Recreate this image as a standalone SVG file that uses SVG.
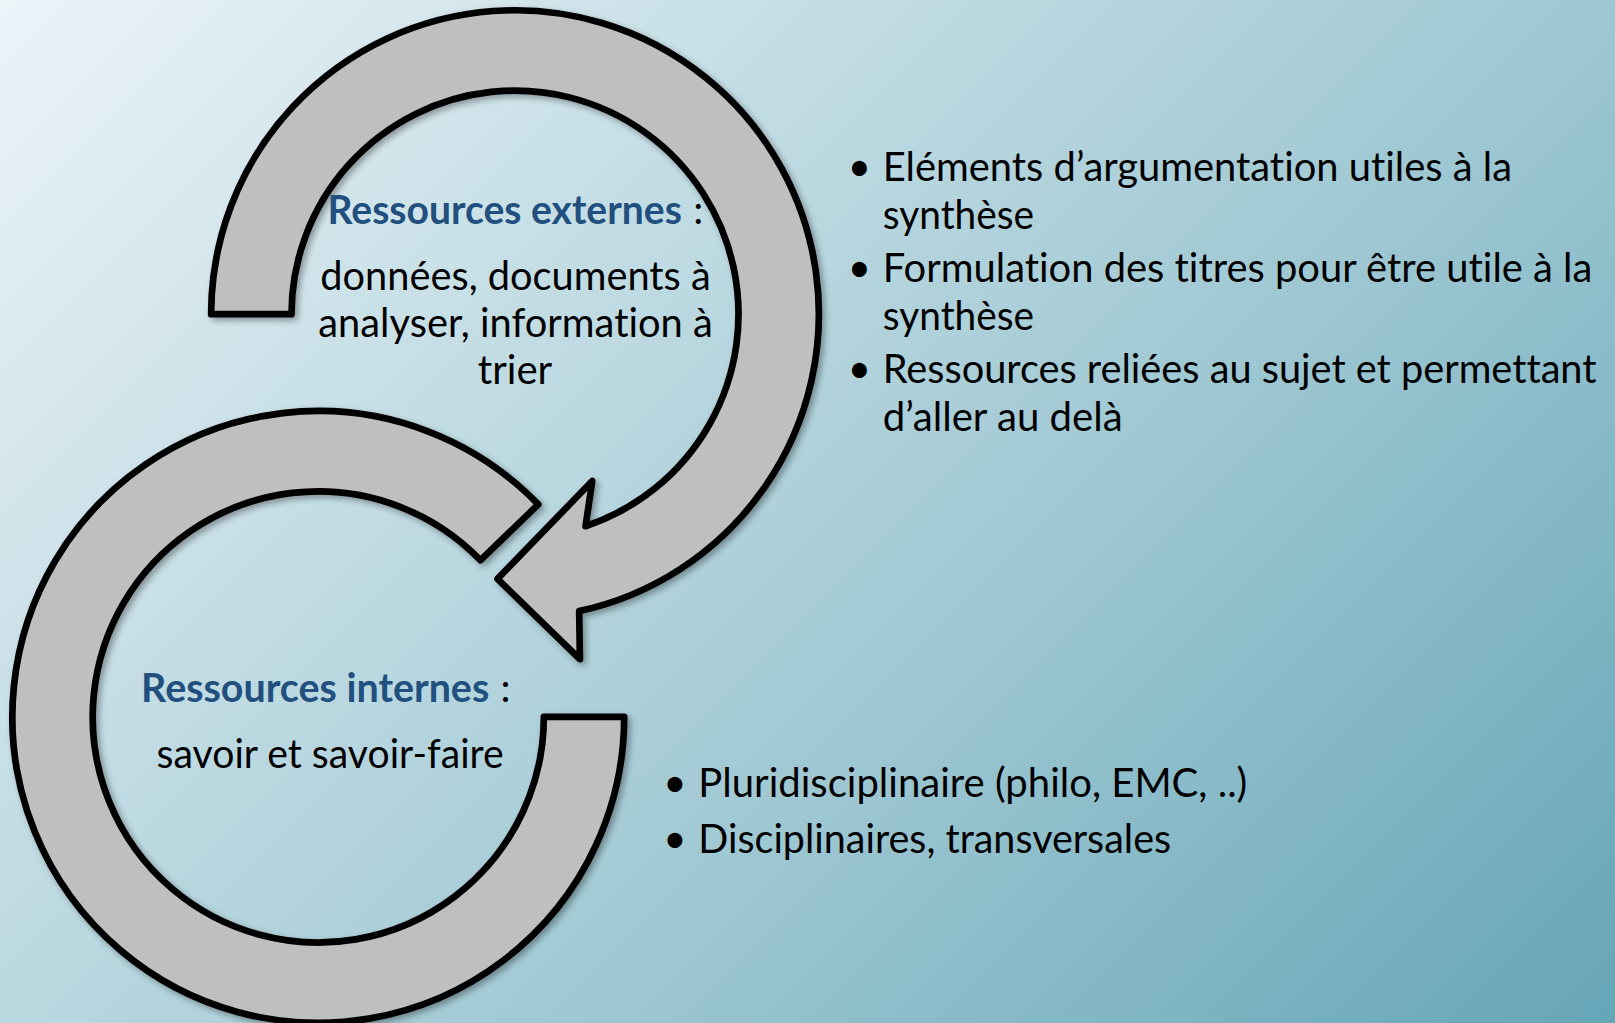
<svg xmlns="http://www.w3.org/2000/svg" width="1615" height="1023" viewBox="0 0 1615 1023">
  <defs>
    <linearGradient id="bg" gradientUnits="userSpaceOnUse" x1="0" y1="0" x2="1319" y2="1319">
      <stop offset="0" stop-color="#ecf4f8"/>
      <stop offset="0.6" stop-color="#9fc8d3"/>
      <stop offset="1" stop-color="#66a5b8"/>
    </linearGradient>
    <filter id="shadow" x="-10%" y="-10%" width="120%" height="120%">
      <feDropShadow dx="3" dy="3" stdDeviation="3" flood-color="#000" flood-opacity="0.35"/>
    </filter>
    <style>
      .band { fill: #bfbfbf; stroke: #000; stroke-width: 6.5; stroke-linejoin: round; filter: url(#shadow); }
      .t { font-family: Lato, "Open Sans", "Liberation Sans", sans-serif; font-size: 39px; fill: #000; font-variant-ligatures: none; }
      .h { font-family: Lato, "Open Sans", "Liberation Sans", sans-serif; font-size: 39px; font-weight: bold; fill: #21507f; font-variant-ligatures: none; }
    </style>
  </defs>
  <rect x="0" y="0" width="1615" height="1023" fill="url(#bg)"/>
  <g transform="scale(1.03)">
    <g id="connectors">
      <path id="arrow-top" class="band" d="M205 305 A295 295 0 1 1 562.3 593.3 L563 640 L483 562 L575 467 L568.5 510.9 A217 217 0 1 0 283 305 Z"/>
      <path id="arc-bottom" class="band" d="M606 696 A297 297 0 1 1 522.6 489.7 L466.5 543.9 A219 219 0 1 0 528 696 Z"/>
    </g>
    <g id="node-externes">
      <text class="h" x="318" y="217" textLength="344" lengthAdjust="spacingAndGlyphs">Ressources externes</text>
      <text class="t" x="673" y="217">:</text>
      <text class="t" x="311" y="282" textLength="379" lengthAdjust="spacingAndGlyphs">données, documents à</text>
      <text class="t" x="309" y="327" textLength="383" lengthAdjust="spacingAndGlyphs">analyser, information à</text>
      <text class="t" x="500" y="373" text-anchor="middle">trier</text>
    </g>
    <g id="node-internes">
      <text class="h" x="137" y="682" textLength="338" lengthAdjust="spacingAndGlyphs">Ressources internes</text>
      <text class="t" x="486" y="682">:</text>
      <text class="t" x="152" y="746" textLength="337" lengthAdjust="spacingAndGlyphs">savoir et savoir-faire</text>
    </g>
    <g id="list-externes">
      <text class="t" x="823" y="176">•</text>
      <text class="t" x="857" y="176" textLength="611" lengthAdjust="spacingAndGlyphs">Eléments d’argumentation utiles à la</text>
      <text class="t" x="857" y="222" textLength="147" lengthAdjust="spacingAndGlyphs">synthèse</text>
      <text class="t" x="823" y="274">•</text>
      <text class="t" x="857" y="274" textLength="689" lengthAdjust="spacingAndGlyphs">Formulation des titres pour être utile à la</text>
      <text class="t" x="857" y="320" textLength="147" lengthAdjust="spacingAndGlyphs">synthèse</text>
      <text class="t" x="823" y="372">•</text>
      <text class="t" x="857" y="372" textLength="693" lengthAdjust="spacingAndGlyphs">Ressources reliées au sujet et permettant</text>
      <text class="t" x="857" y="418" textLength="233" lengthAdjust="spacingAndGlyphs">d’aller au delà</text>
    </g>
    <g id="list-internes">
      <text class="t" x="644" y="774">•</text>
      <text class="t" x="678" y="774" textLength="533" lengthAdjust="spacingAndGlyphs">Pluridisciplinaire (philo, EMC, ..)</text>
      <text class="t" x="644" y="828">•</text>
      <text class="t" x="678" y="828" textLength="459" lengthAdjust="spacingAndGlyphs">Disciplinaires, transversales</text>
    </g>
  </g>
</svg>
